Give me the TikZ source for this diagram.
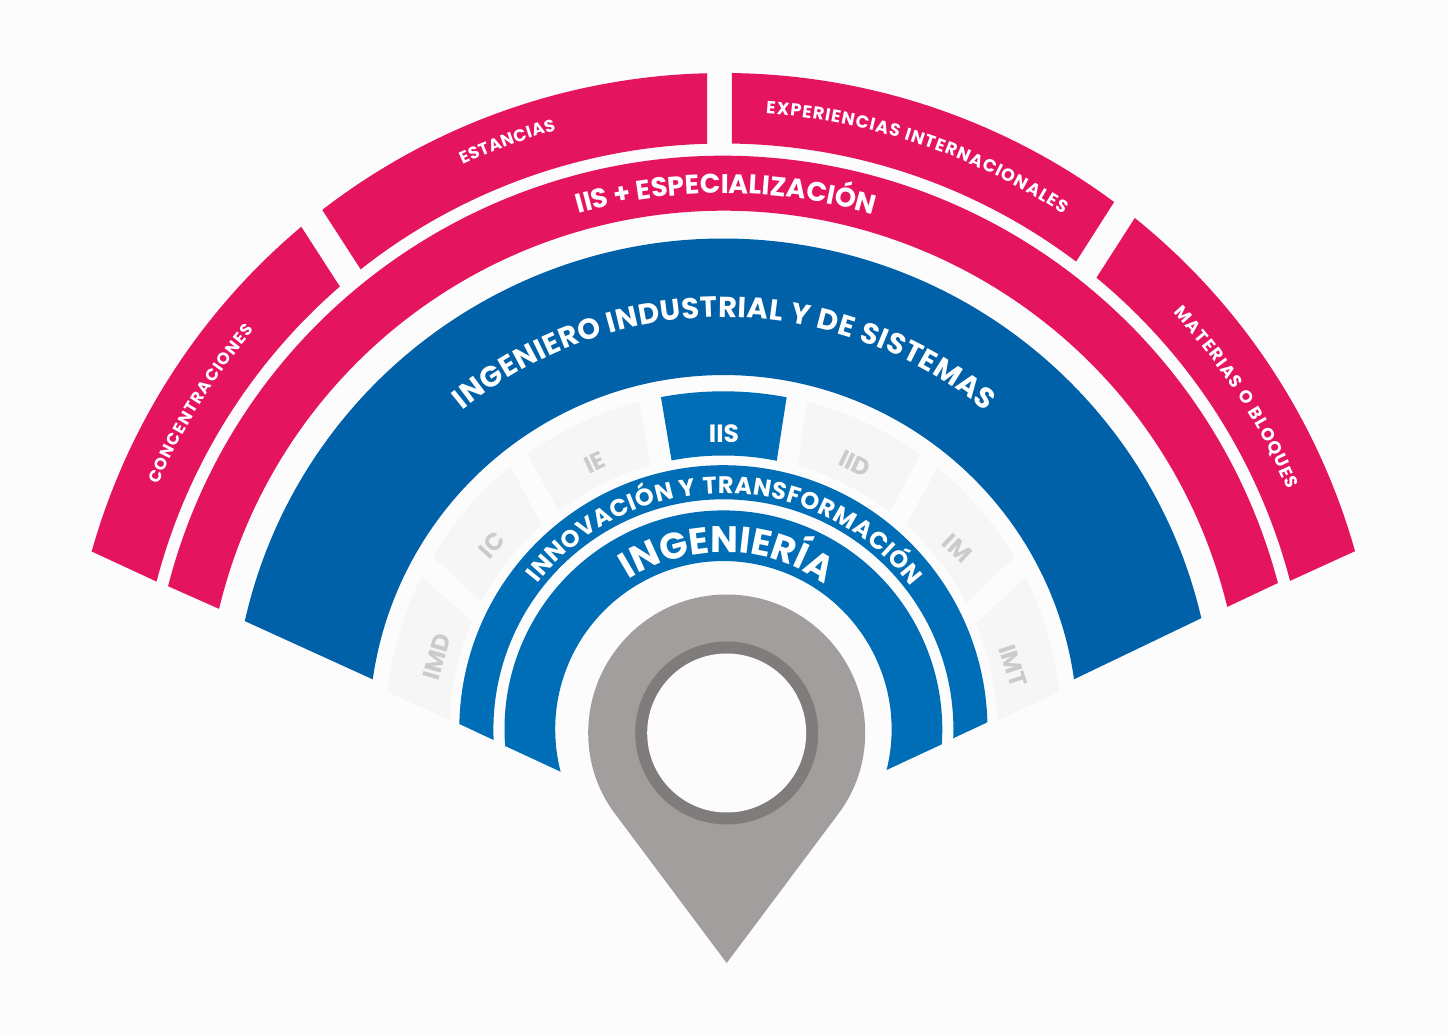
\documentclass[tikz,border=0pt]{standalone}
\usepackage{fontspec}
\setmainfont{Poppins}
\usetikzlibrary{decorations.text}

\definecolor{pinkBand}{HTML}{E5145F}
\definecolor{darkBlue}{HTML}{0060A8}
\definecolor{midBlue}{HTML}{006EB6}
\definecolor{pinGrey}{HTML}{A39E9E}
\definecolor{pinRing}{HTML}{807C7B}
\definecolor{tileGrey}{HTML}{F6F6F6}
\definecolor{tileText}{HTML}{CBCBCB}
\definecolor{paper}{HTML}{FCFCFC}

% ring piece: style, inner r, outer r, outer left/right angle, inner left/right angle
\newcommand{\ringPiece}[7]{
  \fill[#1] (#4:#3) arc[start angle=#4, end angle=#5, radius=#3]
    -- (#7:#2) arc[start angle=#7, end angle=#6, radius=#2] -- cycle;
}
% curved label: radius, start angle, end angle, font size, text
\newcommand{\arcLabel}[5]{
  \path[decorate, decoration={text along path, text color=white, text align={fit to path},
    text={|\fontsize{#4}{#4}\selectfont\bfseries|#5}}]
    (#2:#1) arc[start angle=#2, end angle=#3, radius=#1];
}

\begin{document}
\begin{tikzpicture}[x=1pt, y=1pt,
    tile/.style = {fill=tileGrey},
    tileLabel/.style = {text=tileText, font=\fontsize{24}{24}\selectfont\bfseries, inner sep=0pt}]
  \useasboundingbox (-723.4,-305.7) rectangle (723.6,729.3);
  \fill[paper] (-723.4,-305.7) rectangle (723.6,729.3);

  % Outer pink pieces
  \def\rIn{585.8}
  \def\rOut{656.3}
  \foreach \oL/\oR/\iL/\iR in {164.28/130.03/165.39/130.9, 127.68/91.43/128.26/91.6,
      89.25/53.46/89.16/52.98, 51.18/15.75/50.44/14.68}{
      \ringPiece{pinkBand}{\rIn}{\rOut}{\oL}{\oR}{\iL}{\iR}
    }

  % Full bands
  \ringPiece{pinkBand}{518.5}{573.5}{165.55}{14.78}{166.57}{13.65}
  \ringPiece{darkBlue}{354.2}{490.7}{167.26}{13.09}{171.89}{8.12}
  \ringPiece{midBlue}{230}{264.1}{178.85}{1.52}{182.67}{-2.24}
  \ringPiece{midBlue}{168.2}{218.9}{184.37}{-3.93}{194.61}{-14}

  % Grey tiles
  \foreach \oL/\oR/\iL/\iR in {173.62/153.17/178.05/156.86, 149.25/129.05/152.17/131.65,
      125.42/104.35/127.06/105.43, 75.66/54.46/74.28/52.56,
      50.74/30.62/48.1/27.49, 26.67/6.39/22.76/1.8}{
      \ringPiece{tile}{273.8}{338}{\oL}{\oR}{\iL}{\iR}
    }
  \ringPiece{midBlue}{273.8}{338}{100.65}{79.21}{100.91}{78.76}

  % Tile labels
  \node[tileLabel, rotate=74] (imd) at (-286.7,72.6) {IMD};
  \node[tileLabel, rotate=48] (ic) at (-231.7,184.3) {IC};
  \node[tileLabel, rotate=25] (ie) at (-128.4,266.6) {IE};
  \node[inner sep=0pt, text=white, font=\fontsize{25}{25}\selectfont\bfseries] (iis) at (0.6,295.3) {IIS};
  \node[tileLabel, rotate=-25] (iid) at (131.6,265.3) {IID};
  \node[tileLabel, rotate=-43] (im) at (233.9,181) {IM};
  \node[tileLabel, rotate=-72] (imt) at (289.3,63.3) {IMT};

  % Curved labels
  \arcLabel{616}{156.6}{139.6}{16.5}{CONCENTRACIONES}
  \arcLabel{622}{114.8}{105.6}{17}{ESTANCIAS}
  \arcLabel{617}{86.05}{56.6}{17.5}{EXPERIENCIAS INTERNACIONALES}
  \arcLabel{613}{42.8}{23}{17.5}{MATERIAS O BLOQUES}
  \arcLabel{536}{105.7}{74.6}{27}{IIS + ESPECIALIZACIÓN}
  \arcLabel{412}{129.3}{50.5}{29}{INGENIERO INDUSTRIAL Y DE SISTEMAS}
  \arcLabel{236}{141.9}{37.3}{24}{INNOVACIÓN Y TRANSFORMACIÓN}
  \arcLabel{177}{122.3}{58.9}{37}{INGENIERÍA}

  % Pin
  \begin{scope}[shift={(3.3,-3.7)}]
    \fill[pinGrey] (0,-230) -- (113,-79) .. controls (129,-57) and (138.5,-30) .. (138.5,0)
      arc[start angle=0, end angle=180, radius=138.5]
      .. controls (-138.5,-30) and (-129,-57) .. (-113,-79) -- cycle;
    \fill[pinRing] (0,0) circle[radius=91.5];
    \fill[paper] (0,0) circle[radius=79.5];
  \end{scope}
\end{tikzpicture}
\end{document}
